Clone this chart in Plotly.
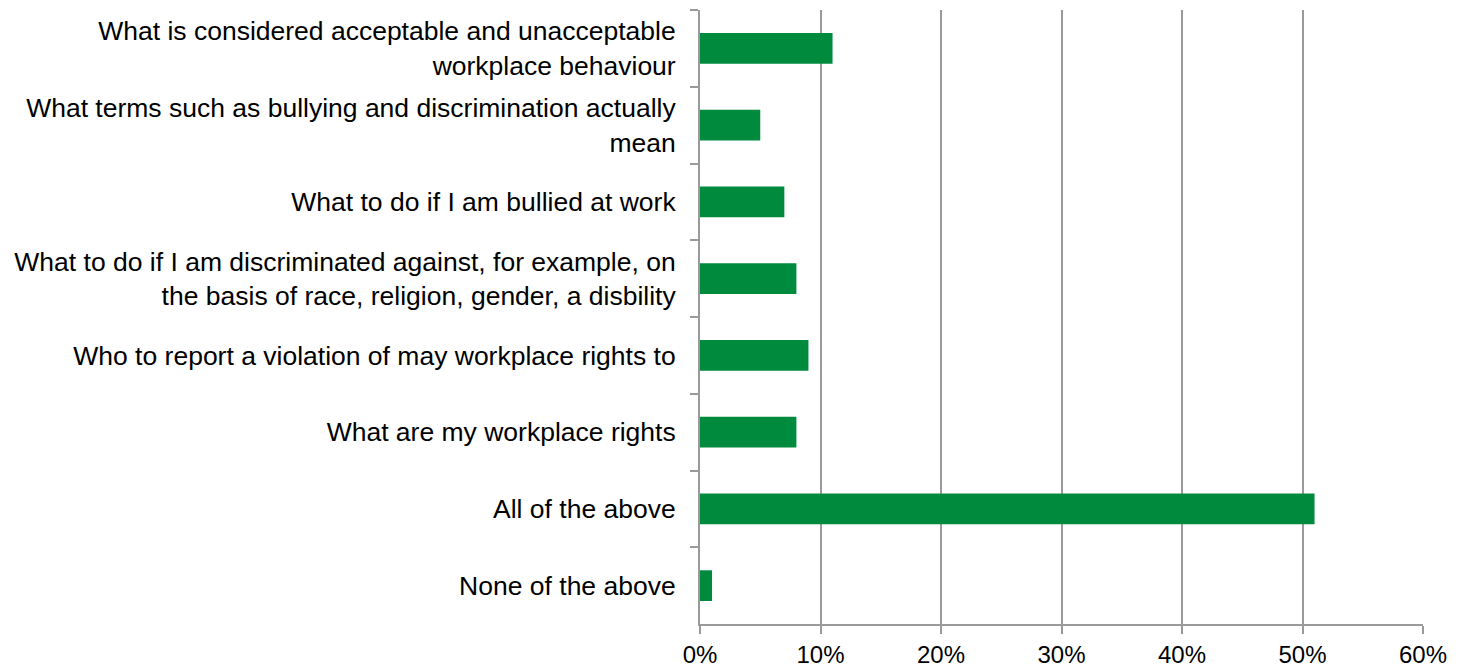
import plotly.graph_objects as go

categories = [
    "What is considered acceptable and unacceptable<br>workplace behaviour",
    "What terms such as bullying and discrimination actually<br>mean",
    "What to do if I am bullied at work",
    "What to do if I am discriminated against, for example, on<br>the basis of race, religion, gender, a disbility",
    "Who to report a violation of may workplace rights to",
    "What are my workplace rights",
    "All of the above",
    "None of the above",
]
shares = [0.11, 0.05, 0.07, 0.08, 0.09, 0.08, 0.51, 0.01]
x_ticks = [0, 0.1, 0.2, 0.3, 0.4, 0.5, 0.6]

axis_grey = "#9a9a9a"

fig = go.Figure(
    go.Bar(
        x=shares,
        y=categories,
        orientation="h",
        width=0.4,
        marker=dict(color="#008a3e", line=dict(width=0)),
        hoverinfo="skip",
    )
)

fig.update_layout(
    width=1462,
    height=667,
    margin=dict(l=700, r=39, t=10, b=43, autoexpand=False),
    paper_bgcolor="white",
    plot_bgcolor="white",
    showlegend=False,
    font=dict(family="Liberation Sans, Arial, sans-serif", color="black"),
    xaxis=dict(
        range=[0, 0.6],
        tickvals=x_ticks,
        tickformat=".0%",
        showgrid=True,
        gridcolor=axis_grey,
        gridwidth=2,
        showline=True,
        linecolor=axis_grey,
        linewidth=2,
        ticks="outside",
        ticklen=8,
        tickwidth=2,
        tickcolor=axis_grey,
        tickfont=dict(size=24),
        zeroline=False,
        automargin=False,
    ),
    yaxis=dict(
        categoryorder="array",
        categoryarray=categories,
        autorange="reversed",
        showgrid=False,
        showline=True,
        linecolor=axis_grey,
        linewidth=2,
        ticks="outside",
        tickson="boundaries",
        ticklen=8,
        tickwidth=2,
        tickcolor=axis_grey,
        tickfont=dict(size=26.5),
        ticklabelstandoff=17,
        zeroline=False,
        automargin=False,
    ),
)

fig.write_html("out.html")
